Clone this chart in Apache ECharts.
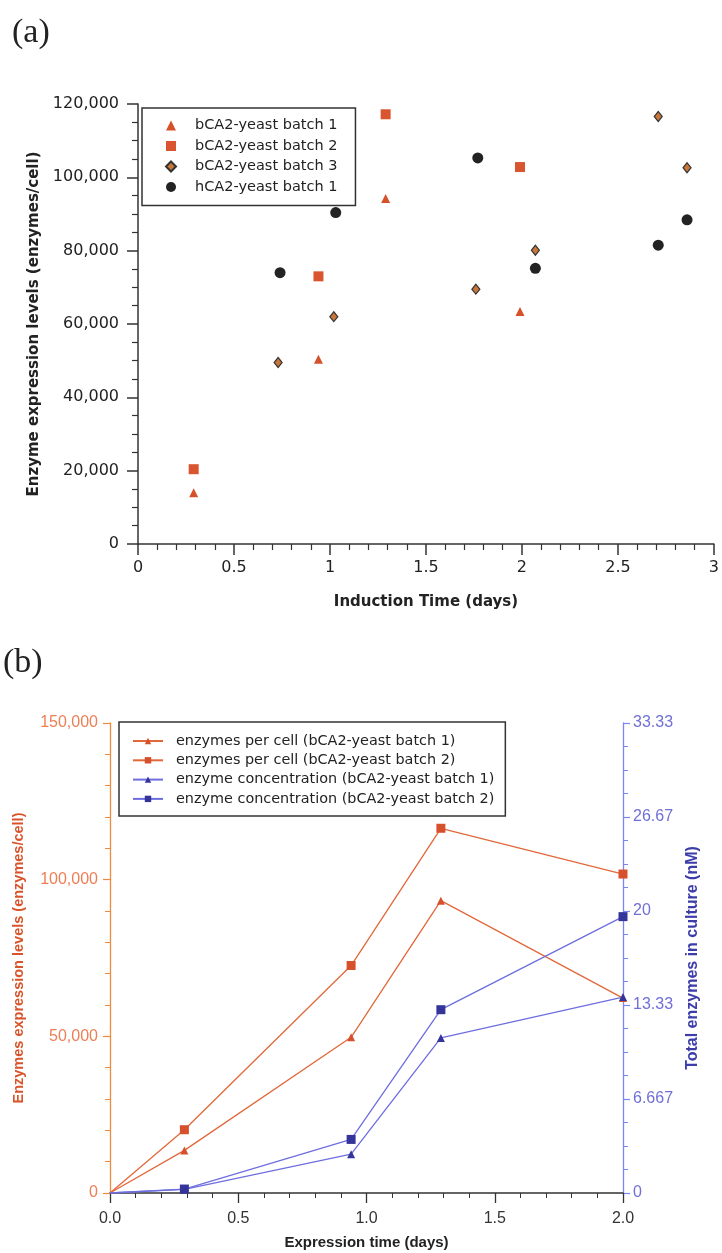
<!DOCTYPE html>
<html>
<head>
<meta charset="utf-8">
<script src="https://cdn.jsdelivr.net/npm/echarts@6/dist/echarts.min.js"></script>
<style>
  html, body { margin: 0; padding: 0; background: #fff; }
  #chart { width: 722px; height: 1253px; }
</style>
</head>
<body>
<div id="chart"></div>
<script>
// panel (a): induction time (days) vs enzymes per cell
var timeB1 = [0.29, 0.94, 1.29, 1.99];
var levelB1 = [14000, 50400, 94200, 63400];
var timeB2 = [0.29, 0.94, 1.29, 1.99];
var levelB2 = [20400, 73000, 117200, 102800];
var timeB3 = [0.73, 1.02, 1.76, 2.07, 2.71, 2.86];
var levelB3 = [49500, 62000, 69500, 80100, 116600, 102600];
var timeH1 = [0.74, 1.03, 1.77, 2.07, 2.71, 2.86];
var levelH1 = [74000, 90400, 105300, 75200, 81500, 88400];

// panel (b): expression time (days)
var expTime = [0, 0.29, 0.94, 1.29, 2.0];
var cellB1 = [0, 13600, 49700, 93300, 62200];
var cellB2 = [0, 20200, 72600, 116400, 101800];
var concB1 = [0, 0.25, 2.75, 11.0, 13.9];
var concB2 = [0, 0.28, 3.8, 13.0, 19.6];

var namesA = ["bCA2-yeast batch 1", "bCA2-yeast batch 2", "bCA2-yeast batch 3", "hCA2-yeast batch 1"];
var namesB = [
  "enzymes per cell (bCA2-yeast batch 1)",
  "enzymes per cell (bCA2-yeast batch 2)",
  "enzyme concentration (bCA2-yeast batch 1)",
  "enzyme concentration (bCA2-yeast batch 2)"
];

function pairs(xs, ys) {
  return xs.map(function (x, i) { return [x, ys[i]]; });
}
// line data, with no marker drawn at the origin point
function linePairs(xs, ys) {
  return xs.map(function (x, i) {
    return i === 0 ? { value: [x, ys[i]], symbol: "none" } : [x, ys[i]];
  });
}
function commas(v) {
  return v.toLocaleString("en-US");
}

var orange = "#d6502b";
var orangeLine = "#e2683a";
var blueLine = "#6e6ee0";
var blueMark = "#34349a";
var fontA = "DejaVu Sans";
var fontB = "Liberation Sans";

var chart = echarts.init(document.getElementById("chart"));

var option = {
  animation: false,
  backgroundColor: "#fff",
  graphic: [
    { type: "text", left: 12, top: 16, style: { text: "(a)", font: "34px 'Liberation Serif'", fill: "#222" } },
    { type: "text", left: 3, top: 646, style: { text: "(b)", font: "34px 'Liberation Serif'", fill: "#222" } }
  ],
  grid: [
    { left: 138, top: 104, width: 578, height: 440 },
    { left: 110, top: 723, width: 513, height: 470 }
  ],
  legend: [
    {
      data: namesA,
      orient: "vertical",
      left: 142,
      top: 108,
      padding: [10, 18, 11, 23],
      itemWidth: 10,
      itemHeight: 10,
      itemGap: 5.5,
      borderColor: "#333",
      borderWidth: 1.5,
      textStyle: { fontFamily: fontA, fontSize: 14.5, color: "#222", lineHeight: 14, padding: [0, 0, 0, 14] }
    },
    {
      data: namesB,
      orient: "vertical",
      left: 119,
      top: 722,
      padding: [12, 11, 10, 13],
      itemWidth: 30,
      itemHeight: 8,
      itemGap: 5.3,
      borderColor: "#333",
      borderWidth: 1.5,
      textStyle: { fontFamily: fontA, fontSize: 14.4, color: "#222", lineHeight: 14, padding: [0, 0, 0, 8] }
    }
  ],
  xAxis: [
    {
      gridIndex: 0,
      type: "value",
      min: 0,
      max: 3,
      interval: 0.5,
      name: "Induction Time (days)",
      nameLocation: "middle",
      nameGap: 51,
      nameTextStyle: { fontFamily: fontA, fontSize: 15, fontWeight: "bold", color: "#222" },
      axisLine: { show: true, lineStyle: { color: "#333", width: 1.5 } },
      axisTick: { show: true, inside: false, length: 11, lineStyle: { color: "#333", width: 1.5 } },
      minorTick: { show: true, splitNumber: 5, length: 6, lineStyle: { color: "#333", width: 1.2 } },
      axisLabel: { margin: 16, fontFamily: fontA, fontSize: 16, color: "#222" },
      splitLine: { show: false }
    },
    {
      gridIndex: 1,
      type: "value",
      min: 0,
      max: 2,
      interval: 0.5,
      name: "Expression time (days)",
      nameLocation: "middle",
      nameGap: 42,
      nameTextStyle: { fontFamily: fontB, fontSize: 15, fontWeight: "bold", color: "#222" },
      axisLine: { show: true, onZero: false, lineStyle: { color: "#333", width: 1.5 } },
      axisTick: { show: true, inside: false, length: 10, lineStyle: { color: "#333", width: 1.3 } },
      minorTick: { show: true, splitNumber: 5, length: 5, lineStyle: { color: "#333", width: 1 } },
      axisLabel: {
        margin: 18, fontFamily: fontB, fontSize: 16, color: "#333",
        formatter: function (v) { return v.toFixed(1); }
      },
      splitLine: { show: false }
    }
  ],
  yAxis: [
    {
      gridIndex: 0,
      type: "value",
      min: 0,
      max: 120000,
      interval: 20000,
      name: "Enzyme expression levels (enzymes/cell)",
      nameLocation: "middle",
      nameGap: 90,
      nameTextStyle: { fontFamily: fontA, fontSize: 15, fontWeight: "bold", color: "#222" },
      axisLine: { show: true, lineStyle: { color: "#333", width: 1.5 } },
      axisTick: { show: true, inside: false, length: 11, lineStyle: { color: "#333", width: 1.5 } },
      minorTick: { show: true, splitNumber: 4, length: 6, lineStyle: { color: "#333", width: 1.2 } },
      axisLabel: { margin: 19, fontFamily: fontA, fontSize: 16, color: "#222", formatter: commas },
      splitLine: { show: false }
    },
    {
      gridIndex: 1,
      type: "value",
      position: "left",
      min: 0,
      max: 150000,
      interval: 50000,
      name: "Enzymes expression levels (enzymes/cell)",
      nameLocation: "middle",
      nameGap: 84,
      nameTextStyle: { fontFamily: fontB, fontSize: 14.5, fontWeight: "bold", color: "#d9542a" },
      axisLine: { show: true, lineStyle: { color: "#f08a3c", width: 1.3 } },
      axisTick: { show: true, inside: false, length: 7, lineStyle: { color: "#f08a3c", width: 1.2 } },
      minorTick: { show: true, splitNumber: 5, length: 5, lineStyle: { color: "#f08a3c", width: 1 } },
      axisLabel: { margin: 12, fontFamily: fontB, fontSize: 16, color: "#ec7f55", formatter: commas },
      splitLine: { show: false }
    },
    {
      gridIndex: 1,
      type: "value",
      position: "right",
      min: 0,
      max: 100 / 3,
      interval: 100 / 15,
      name: "Total enzymes in culture (nM)",
      nameLocation: "middle",
      nameGap: 62,
      nameTextStyle: { fontFamily: fontB, fontSize: 16, fontWeight: "bold", color: "#3d3daa" },
      axisLine: { show: true, lineStyle: { color: "#7a86f2", width: 1.3 } },
      axisTick: { show: true, inside: false, length: 7, lineStyle: { color: "#7a86f2", width: 1.2 } },
      minorTick: { show: true, splitNumber: 4, length: 5, lineStyle: { color: "#7a86f2", width: 1 } },
      axisLabel: {
        margin: 10, fontFamily: fontB, fontSize: 16, color: "#7070d6",
        formatter: function (v) { return String(parseFloat(v.toPrecision(4))); }
      },
      splitLine: { show: false }
    }
  ],
  series: [
    {
      name: namesA[0], type: "scatter", xAxisIndex: 0, yAxisIndex: 0,
      data: pairs(timeB1, levelB1),
      symbol: "triangle", symbolSize: [9, 9],
      itemStyle: { color: orange, opacity: 1 }
    },
    {
      name: namesA[1], type: "scatter", xAxisIndex: 0, yAxisIndex: 0,
      data: pairs(timeB2, levelB2),
      symbol: "rect", symbolSize: 10,
      itemStyle: { color: "#d9552f", opacity: 1 }
    },
    {
      name: namesA[2], type: "scatter", xAxisIndex: 0, yAxisIndex: 0,
      data: pairs(timeB3, levelB3),
      symbol: "diamond", symbolSize: [8, 10],
      itemStyle: { color: "#c8763a", borderColor: "#333", borderWidth: 1.2, opacity: 1 }
    },
    {
      name: namesA[3], type: "scatter", xAxisIndex: 0, yAxisIndex: 0,
      data: pairs(timeH1, levelH1),
      symbol: "circle", symbolSize: 11,
      itemStyle: { color: "#232323", opacity: 1 }
    },
    {
      name: namesB[0], type: "line", xAxisIndex: 1, yAxisIndex: 1,
      data: linePairs(expTime, cellB1),
      symbol: "triangle", symbolSize: 8, showAllSymbol: true,
      lineStyle: { color: orangeLine, width: 1.3 },
      itemStyle: { color: orange }
    },
    {
      name: namesB[1], type: "line", xAxisIndex: 1, yAxisIndex: 1,
      data: linePairs(expTime, cellB2),
      symbol: "rect", symbolSize: 9, showAllSymbol: true,
      lineStyle: { color: orangeLine, width: 1.3 },
      itemStyle: { color: orange }
    },
    {
      name: namesB[2], type: "line", xAxisIndex: 1, yAxisIndex: 2,
      data: linePairs(expTime, concB1),
      symbol: "triangle", symbolSize: 8, showAllSymbol: true,
      lineStyle: { color: blueLine, width: 1.3 },
      itemStyle: { color: blueMark }
    },
    {
      name: namesB[3], type: "line", xAxisIndex: 1, yAxisIndex: 2,
      data: linePairs(expTime, concB2),
      symbol: "rect", symbolSize: 9, showAllSymbol: true,
      lineStyle: { color: blueLine, width: 1.3 },
      itemStyle: { color: blueMark }
    }
  ]
};

chart.setOption(option);
</script>
</body>
</html>
